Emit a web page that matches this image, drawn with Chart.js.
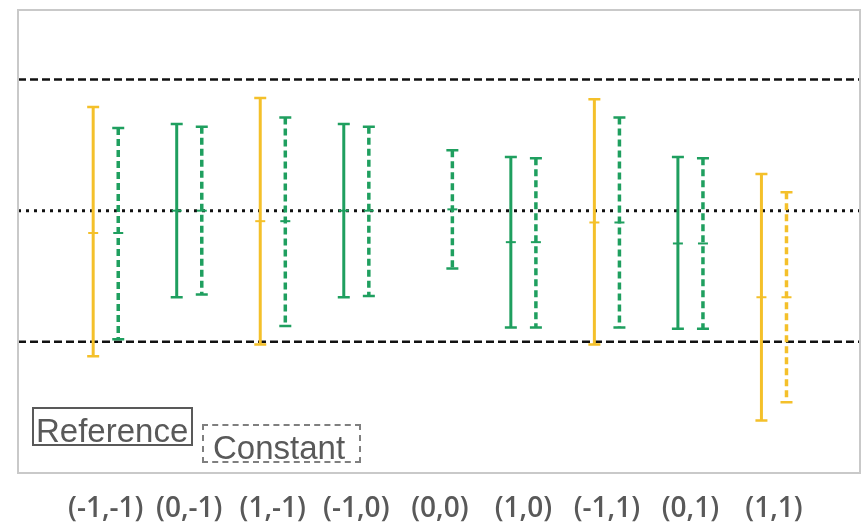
<!DOCTYPE html>
<html>
<head>
<meta charset="utf-8">
<script src="https://cdn.jsdelivr.net/npm/chart.js@4/dist/chart.umd.min.js"></script>
<style>
  html, body { margin: 0; padding: 0; background: #ffffff; }
  #wrap { position: relative; width: 865px; height: 527px; }
  .key {
    position: absolute;
    box-sizing: border-box;
    font-family: "Liberation Sans", Arial, sans-serif;
    font-size: 33px;
    line-height: 33px;
    color: #595959;
    white-space: nowrap;
  }
  #keyRef   { left: 32px;  top: 407px; width: 161px; height: 39px; border: 2px solid #595959; padding: 5px 0 0 2px; }
  #keyConst { left: 202px; top: 424px; width: 159px; height: 39px; border: 2px dashed #7f7f7f; padding: 5px 0 0 9px; }
</style>
</head>
<body>
<div id="wrap">
  <canvas id="chart" width="865" height="527"></canvas>
  <div class="key" id="keyRef">Reference</div>
  <div class="key" id="keyConst">Constant</div>
</div>
<script>
(function () {
    'use strict';

    // categories (x, y offsets)
    const categories = ['(-1,-1)', '(0,-1)', '(1,-1)', '(-1,0)', '(0,0)', '(1,0)', '(-1,1)', '(0,1)', '(1,1)'];

    // reference model: interval low / estimate / high
    const refLow  = [-1.11, -0.66, -1.02, -0.66, null, -0.89, -1.02, -0.90, -1.60];
    const refMid  = [-0.17,  0.00, -0.08,  0.00, null, -0.24, -0.09, -0.25, -0.66];
    const refHigh = [ 0.79,  0.66,  0.86,  0.66, null,  0.41,  0.85,  0.41,  0.28];
    const refFlag = [true, false, true, false, null, false, true, false, true];

    // constant model: interval low / estimate / high
    const constLow  = [-0.98, -0.64, -0.88, -0.65, -0.44, -0.89, -0.89, -0.90, -1.46];
    const constMid  = [-0.17,  0.00, -0.08,  0.00,  0.01, -0.24, -0.09, -0.25, -0.66];
    const constHigh = [ 0.63,  0.64,  0.71,  0.64,  0.46,  0.40,  0.71,  0.40,  0.14];
    const constFlag = [false, false, false, false, false, false, false, false, true];

    // horizontal guides
    const boundLevels = [1, -1];
    const centreLevel = 0;

    const GOLD  = '#f4c02a';
    const GREEN = '#1f9f5f';
    const FRAME = '#c9c9c9';
    const TEXT  = '#595959';

    const X_MIN = -1.05, X_MAX = 9.03;
    const Y_MIN = -2.0,  Y_MAX = 1.53;
    const PAIR_OFFSET = 0.15;

    const flatLine = (y) => [{ x: X_MIN, y: y }, { x: X_MAX, y: y }];

    const datasets = boundLevels.map(v => ({
        data: flatLine(v),
        borderColor: '#111111',
        borderWidth: 2.5,
        borderDash: [8, 4],
        pointRadius: 0
    }));
    datasets.push({
        data: flatLine(centreLevel),
        borderColor: '#111111',
        borderWidth: 3,
        borderDash: [3, 5],
        pointRadius: 0
    });

    function drawBar(ctx, xs, ys, x, lo, mid, hi, color, dashed) {
        if (lo == null || hi == null) return;
        const px  = xs.getPixelForValue(x);
        const pLo = ys.getPixelForValue(lo);
        const pHi = ys.getPixelForValue(hi);
        const pMd = ys.getPixelForValue(mid);
        ctx.save();
        ctx.strokeStyle = color;
        ctx.lineWidth = dashed ? 3.5 : 3;
        ctx.setLineDash(dashed ? [7, 4] : []);
        ctx.beginPath();
        ctx.moveTo(px, pHi);
        ctx.lineTo(px, pLo);
        ctx.stroke();
        ctx.setLineDash([]);
        ctx.lineWidth = 2.5;
        ctx.beginPath();
        ctx.moveTo(px - 6, pHi); ctx.lineTo(px + 6, pHi);
        ctx.moveTo(px - 6, pLo); ctx.lineTo(px + 6, pLo);
        ctx.stroke();
        ctx.lineWidth = 2;
        ctx.beginPath();
        ctx.moveTo(px - 5, pMd); ctx.lineTo(px + 5, pMd);
        ctx.stroke();
        ctx.restore();
    }

    const errorBarPlugin = {
        id: 'errorBars',
        afterDatasetsDraw(chart) {
            const ctx = chart.ctx;
            const xs = chart.scales.x, ys = chart.scales.y;
            categories.forEach((_, i) => {
                drawBar(ctx, xs, ys, i - PAIR_OFFSET, refLow[i], refMid[i], refHigh[i],
                        refFlag[i] ? GOLD : GREEN, false);
                drawBar(ctx, xs, ys, i + PAIR_OFFSET, constLow[i], constMid[i], constHigh[i],
                        constFlag[i] ? GOLD : GREEN, true);
            });
        }
    };

    const framePlugin = {
        id: 'frame',
        afterDraw(chart) {
            const { left, top, right, bottom } = chart.chartArea;
            const ctx = chart.ctx;
            ctx.save();
            ctx.strokeStyle = FRAME;
            ctx.lineWidth = 2;
            ctx.strokeRect(left, top, right - left, bottom - top);
            ctx.restore();
        }
    };

    new Chart(document.getElementById('chart').getContext('2d'), {
        type: 'line',
        data: { datasets },
        plugins: [errorBarPlugin, framePlugin],
        options: {
            responsive: false,
            animation: false,
            events: [],
            layout: { padding: { left: 18, top: 10, right: 5, bottom: 0 } },
            plugins: { legend: { display: false }, tooltip: { enabled: false } },
            scales: {
                x: {
                    type: 'linear',
                    min: X_MIN,
                    max: X_MAX,
                    grid: { display: false },
                    border: { display: false },
                    afterBuildTicks: (scale) => { scale.ticks = categories.map((_, i) => ({ value: i })); },
                    afterFit: (scale) => { scale.height = 54; },
                    ticks: {
                        padding: 11,
                        color: TEXT,
                        maxRotation: 0,
                        autoSkip: false,
                        font: { family: '"Open Sans", sans-serif', size: 28, weight: '600' },
                        callback: (v) => categories[Math.round(v)]
                    }
                },
                y: {
                    type: 'linear',
                    display: false,
                    min: Y_MIN,
                    max: Y_MAX
                }
            }
        }
    });
}());
</script>
</body>
</html>
